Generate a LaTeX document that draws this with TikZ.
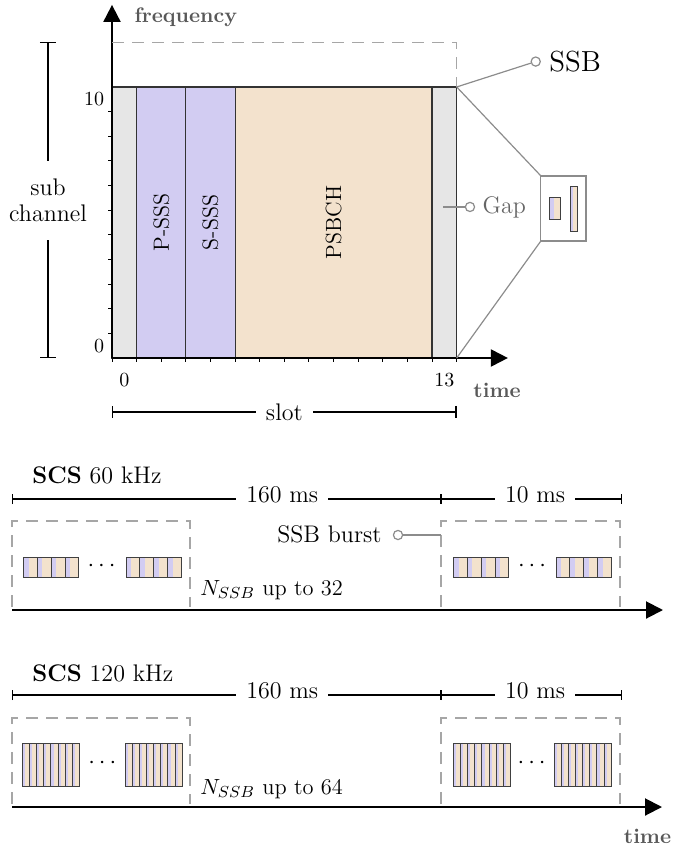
\documentclass[tikz,border=0pt]{standalone}
\usepackage{fontspec}
\usetikzlibrary{arrows.meta,calc}
\definecolor{lav}{RGB}{210,204,242}
\definecolor{beige}{RGB}{243,226,205}
\definecolor{gapfill}{RGB}{230,230,230}

\begin{document}
\begin{tikzpicture}[x=.5pt,y=-.5pt,
  axis/.style={line width=1pt,-{Triangle[length=8.5pt,width=8.5pt]}},
  cell/.style={draw=black!80,line width=.6pt},
  dimline/.style={line width=.6pt,{Bar[width=#1]}-{Bar[width=#1]}}, dimline/.default=5pt,
  dimtxt/.style={fill=white,inner xsep=5pt,inner ysep=1pt,font=\fontsize{12}{14}\selectfont},
  lbl/.style={inner sep=0pt,font=\fontsize{12}{14}\selectfont},
  ticklbl/.style={inner sep=0pt,font=\fontsize{10}{12}\selectfont},
  axlbl/.style={inner sep=0pt,text=black!65,font=\fontsize{10.5}{12}\selectfont\bfseries},
  leadline/.style={draw=black!45,line width=.6pt},
  hookdot/.style={circle,draw=black!45,fill=white,line width=.6pt,inner sep=0pt,minimum size=4.6pt},
  framedash/.style={draw=black!35,line width=.6pt,dash pattern=on 6pt off 4pt},
  ssbmini/.style={draw=black!75,line width=.5pt,fill=beige,path picture={\fill[lav] (path picture bounding box.north west) rectangle ($(path picture bounding box.south west)!.38!(path picture bounding box.south east)$);}},
  dotsrow/.style={inner sep=0pt,font=\fontsize{13}{15}\selectfont}]
\useasboundingbox (0,0) rectangle (673,850);

\begin{scope}[shift={(112,358)},x=12.31pt,y=12.32pt]
\draw[cell,fill=gapfill] (0,0) rectangle (1,11); \draw[cell,fill=lav] (1,0) rectangle (3,11); \draw[cell,fill=lav] (3,0) rectangle (5,11);
\draw[cell,fill=beige] (5,0) rectangle (13,11); \draw[cell,fill=gapfill] (13,0) rectangle (14,11);
\node[rotate=90,font=\fontsize{11}{13}\selectfont] (psss) at (2,5.5) {P-SSS};
\node[rotate=90,font=\fontsize{11}{13}\selectfont] (ssss) at (4,5.5) {S-SSS};
\node[rotate=90,font=\fontsize{11}{13}\selectfont] (psbch) at (9,5.5) {PSBCH};
\foreach \k in {1,...,10} \draw[line width=.5pt] (0,\k) -- (-.18,\k);
\foreach \k in {0,...,14} \draw[line width=.5pt] (\k,0) -- (\k,-.18);
\draw[axis] (0,0) -- (0,14.33); \draw[axis] (0,0) -- (16.08,0);
\node[ticklbl,anchor=east] (ylo) at (-.3,.5) {0}; \node[ticklbl,anchor=east] (yhi) at (-.3,10.5) {10};
\node[ticklbl] (xlo) at (.5,-.9) {0}; \node[ticklbl] (xhi) at (13.5,-.9) {13};
\node[axlbl,anchor=west] (freqlbl) at (.9,13.84) {frequency}; \node[axlbl] (timelbl) at (15.64,-1.3) {time};
\draw[framedash] (0,12.82) -- (14,12.82) -- (14,11);
\draw[dimline=8pt] (-2.6,12.82) -- node[lbl,fill=white,align=center,inner ysep=9pt,font=\fontsize{12}{13}\selectfont] (subch) {sub\\channel} (-2.6,0);
\draw[dimline=6pt] (0,-2.19) -- node[dimtxt] (slotlbl) {slot} (14,-2.19);
\coordinate (ssbtop) at (14,11); \coordinate (ssbbot) at (14,0);
\node[hookdot] (ssbdot) at (17.21,12.03) {};
\node[anchor=west,inner sep=0pt,font=\fontsize{14.5}{16}\selectfont] (ssblbl) at ([xshift=4pt]ssbdot.east) {SSB};
\draw[leadline] (ssbtop) -- (ssbdot);
\coordinate (gapin) at (13.45,6.13); \node[hookdot] (gapdot) at (14.54,6.13) {};
\node[lbl,anchor=west,text=black!60] (gaplbl) at ([xshift=3.5pt]gapdot.east) {Gap};
\draw[leadline] (gapin) -- (gapdot);
\coordinate (zbl) at (17.42,4.75); \coordinate (ztl) at (17.42,7.39);
\draw[leadline] (zbl) rectangle (19.25,7.39); \draw[leadline] (ssbtop) -- (ztl); \draw[leadline] (ssbbot) -- (zbl);
\draw[ssbmini] (17.75,5.64) rectangle (18.23,6.51); \draw[ssbmini] (18.64,5.15) rectangle (18.90,6.95);
\end{scope}

\node[lbl,anchor=base west] (scs60) at (32,483) {\textbf{SCS} 60 kHz};
\draw[dimline] (12,499) -- node[dimtxt,pos=.63,yshift=2pt] (p160a) {160 ms} (441,499);
\draw[dimline] (441,499) -- node[dimtxt,pos=.52,yshift=2pt] (p10a) {10 ms} (622,499);
\draw[framedash] (12,607) -- (12,521) -- (190,521) -- (190,607);
\draw[framedash] (441,607) -- (441,521) -- (620,521) -- (620,607);
\foreach \x in {23.3,126,453.3,556} \foreach \i in {0,...,3} \draw[ssbmini] ({\x+\i*13.9},557) rectangle ++(13.9,20.5);
\node[dotsrow] (dotsa) at (101.6,566) {$\cdots$}; \node[dotsrow] (dotsb) at (532,566) {$\cdots$};
\node[lbl,anchor=base east] (burstlbl) at (382,542) {SSB burst};
\node[hookdot] (burstdot) at (398,535) {}; \coordinate (burstin) at (441,535);
\draw[leadline] (burstdot) -- (burstin);
\node[lbl,anchor=base west,font=\fontsize{11.2}{13}\selectfont] (nssba) at (200,595) {$N_{SSB}$ up to 32};
\draw[axis] (12,610) -- (663,610);

\node[lbl,anchor=base west] (scs120) at (32,681) {\textbf{SCS} 120 kHz};
\draw[dimline] (12,695) -- node[dimtxt,pos=.63,yshift=2pt] (p160b) {160 ms} (441,695);
\draw[dimline] (441,695) -- node[dimtxt,pos=.52,yshift=2pt] (p10b) {10 ms} (622,695);
\draw[framedash] (12,804) -- (12,718) -- (190,718) -- (190,804);
\draw[framedash] (441,804) -- (441,718) -- (620,718) -- (620,804);
\foreach \x in {22.3,125,453.3,554} \foreach \i in {0,...,7} \draw[ssbmini] ({\x+\i*7.15},743) rectangle ++(7.15,43);
\node[dotsrow] (dotsc) at (102.3,763) {$\cdots$}; \node[dotsrow] (dotsd) at (531.7,763) {$\cdots$};
\node[lbl,anchor=base west,font=\fontsize{11.2}{13}\selectfont] (nssbb) at (200,794) {$N_{SSB}$ up to 64};
\draw[axis] (12,807) -- (662,807);
\node[axlbl] (timelbl2) at (647.5,836) {time};
\end{tikzpicture}
\end{document}
